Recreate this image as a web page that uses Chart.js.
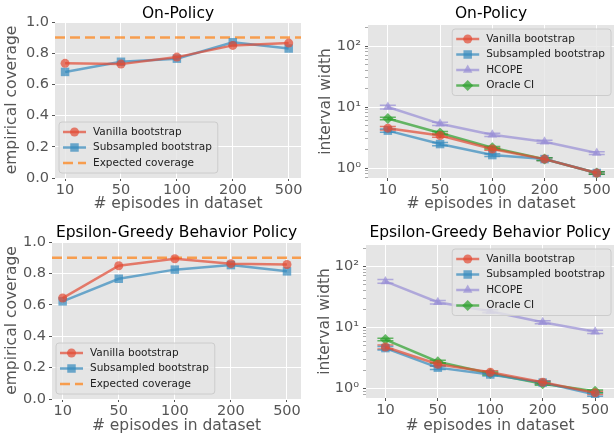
<!DOCTYPE html>
<html>
<head>
<meta charset="utf-8">
<script src="https://cdn.jsdelivr.net/npm/chart.js@4.4.0/dist/chart.umd.min.js"></script>
<style>
body { margin: 0; background: #fff; }
#wrap { position: relative; width: 615px; height: 438px; overflow: hidden; }
canvas { position: absolute; }
</style>
</head>
<body>
<div id="wrap">
<canvas id="c1" width="307" height="218" style="left:0;top:0"></canvas>
<canvas id="c2" width="313" height="218" style="left:307px;top:0"></canvas>
<canvas id="c3" width="307" height="220" style="left:0;top:218px"></canvas>
<canvas id="c4" width="313" height="220" style="left:307px;top:218px"></canvas>
</div>
<script>
// категории по оси X
const episodes = ['10', '50', '100', '200', '500'];
const expectedCoverage = 0.9;

// On-Policy: покрытие
const onVanillaCov = [0.735, 0.73, 0.775, 0.85, 0.865];
const onSubCov = [0.68, 0.745, 0.765, 0.87, 0.83];
// On-Policy: ширина интервала
const onVanillaW = [4.5, 3.4, 2.05, 1.4, 0.83];
const onSubW = [4.1, 2.47, 1.63, 1.4, 0.83];
const onHcopeW = [10, 5.3, 3.5, 2.7, 1.76];
const onOracleW = [6.5, 3.75, 2.15, 1.4, 0.83];
const onVanillaErr = [0.3, 0.2, 0.1, 0.07, 0.04];
const onSubErr = [0.25, 0.15, 0.08, 0.07, 0.04];
const onHcopeErr = [0.7, 0.3, 0.2, 0.15, 0.09];
const onOracleErr = [0.3, 0.2, 0.1, 0.07, 0.04];

// Epsilon-Greedy: покрытие
const epsVanillaCov = [0.643, 0.849, 0.893, 0.862, 0.857];
const epsSubCov = [0.622, 0.766, 0.824, 0.853, 0.813];
// Epsilon-Greedy: ширина интервала
const epsVanillaW = [4.8, 2.5, 1.85, 1.27, 0.85];
const epsSubW = [4.6, 2.2, 1.7, 1.25, 0.8];
const epsHcopeW = [57, 26, 18.5, 12.2, 8.5];
const epsOracleW = [6.35, 2.75, 1.76, 1.2, 0.9];
const epsVanillaErr = [0.35, 0.15, 0.1, 0.07, 0.05];
const epsSubErr = [0.3, 0.15, 0.1, 0.07, 0.05];
const epsHcopeErr = [4, 1.8, 1.1, 0.7, 0.5];
const epsOracleErr = [0.3, 0.15, 0.1, 0.07, 0.05];

// деления логарифмической оси
const logTicks = [0.7, 0.8, 0.9, 1, 2, 3, 4, 5, 6, 7, 8, 9, 10, 20, 30, 40, 50, 60, 70, 80, 90, 100, 200];
const logLabels = { 1: '10\u2070', 10: '10\u00b9', 100: '10\u00b2' };

const FONT = "'DejaVu Sans', sans-serif";
const RED = 'rgba(226,74,51,0.7)';
const BLUE = 'rgba(52,138,189,0.7)';
const PURPLE = 'rgba(152,142,213,0.7)';
const GREEN = 'rgba(44,160,44,0.7)';
const ORANGE = 'rgba(255,127,14,0.7)';

Chart.defaults.font.family = FONT;

// фон, усы ошибок, заголовок и легенда внутри области графика
const extrasPlugin = {
    id: 'extras',
    beforeDraw(chart) {
        const a = chart.chartArea, ctx = chart.ctx;
        ctx.save();
        ctx.fillStyle = '#E5E5E5';
        ctx.fillRect(a.left, a.top, a.right - a.left, a.bottom - a.top);
        ctx.restore();
    },
    beforeDatasetsDraw(chart) {
        const ctx = chart.ctx, xs = chart.scales.x, ys = chart.scales.y;
        chart.data.datasets.forEach(ds => {
            if (!ds.errs) return;
            ctx.save();
            ctx.strokeStyle = ds.borderColor;
            ctx.lineWidth = 1.5;
            ds.data.forEach((p, i) => {
                const px = xs.getPixelForValue(p.x);
                const lo = ys.getPixelForValue(p.y - ds.errs[i]);
                const hi = ys.getPixelForValue(p.y + ds.errs[i]);
                ctx.beginPath();
                ctx.moveTo(px, lo); ctx.lineTo(px, hi);
                ctx.moveTo(px - 8, lo); ctx.lineTo(px + 8, lo);
                ctx.moveTo(px - 8, hi); ctx.lineTo(px + 8, hi);
                ctx.stroke();
            });
            ctx.restore();
        });
    },
    afterDraw(chart, args, opts) {
        const a = chart.chartArea, ctx = chart.ctx;
        ctx.save();
        // заголовок
        ctx.fillStyle = '#000';
        ctx.font = '15.5px ' + FONT;
        ctx.textAlign = 'center';
        ctx.textBaseline = 'middle';
        ctx.fillText(opts.title, (a.left + a.right) / 2, opts.titleY);

        // легенда
        const items = chart.data.datasets;
        ctx.font = '10.5px ' + FONT;
        let tw = 0;
        items.forEach(d => { tw = Math.max(tw, ctx.measureText(d.label).width); });
        const rowH = 15.5, padY = 9;
        const w = 34 + tw + 6, h = padY * 2 + rowH * (items.length - 1) + 2;
        let bx, by;
        if (opts.corner === 'lower left') {
            bx = a.left + 4; by = a.bottom - 5 - h;
        } else {
            bx = a.right - 3 - w; by = a.top + 4;
        }
        ctx.beginPath();
        ctx.roundRect(bx, by, w, h, 3);
        ctx.fillStyle = 'rgba(229,229,229,0.8)';
        ctx.fill();
        ctx.strokeStyle = '#CCCCCC';
        ctx.lineWidth = 1;
        ctx.stroke();
        items.forEach((d, i) => {
            const ry = by + padY + 1 + i * rowH;
            ctx.strokeStyle = d.borderColor;
            ctx.lineWidth = d.borderWidth;
            ctx.setLineDash(d.borderDash || []);
            ctx.beginPath();
            ctx.moveTo(bx + 4, ry); ctx.lineTo(bx + 27, ry);
            ctx.stroke();
            ctx.setLineDash([]);
            if (d.pointRadius > 0) {
                ctx.fillStyle = d.borderColor;
                Chart.helpers.drawPoint(ctx, { pointStyle: d.pointStyle, radius: d.pointRadius, rotation: 0, borderWidth: 0 }, bx + 15.5, ry);
            }
            ctx.fillStyle = '#222';
            ctx.textAlign = 'left';
            ctx.fillText(d.label, bx + 34, ry);
        });
        ctx.restore();
    }
};

// набор данных для линии с маркерами
function lineSet(label, values, color, style, radius, errs) {
    return {
        label: label,
        data: values.map((v, i) => ({ x: i, y: v })),
        borderColor: color,
        backgroundColor: color,
        borderWidth: 2.5,
        pointStyle: style,
        pointRadius: radius,
        pointBorderWidth: 0,
        pointBackgroundColor: color,
        errs: errs
    };
}

// горизонтальная линия ожидаемого покрытия
function expectedSet(xMin, xMax) {
    return {
        label: 'Expected coverage',
        data: [{ x: xMin, y: expectedCoverage }, { x: xMax, y: expectedCoverage }],
        borderColor: ORANGE,
        borderWidth: 2.5,
        borderDash: [10, 5],
        pointRadius: 0
    };
}

function xScale(min, max, height, titlePad) {
    return {
        type: 'linear', min: min, max: max,
        afterBuildTicks: s => { s.ticks = episodes.map((e, i) => ({ value: i })); },
        afterFit: s => { s.height = height; s.paddingLeft = 0; s.paddingRight = 0; },
        ticks: { callback: v => episodes[v], color: '#555', font: { size: 14.5 }, padding: 1, maxRotation: 0, autoSkip: false },
        grid: { color: '#FFFFFF', lineWidth: 1, tickLength: 3, tickColor: '#555' },
        border: { display: false },
        title: { display: true, text: '# episodes in dataset', color: '#555', font: { size: 15.5 }, padding: { top: 0, bottom: titlePad } }
    };
}

function covScale(width) {
    return {
        type: 'linear', min: 0, max: 1,
        afterFit: s => { s.width = width; s.paddingTop = 0; s.paddingBottom = 0; },
        ticks: { stepSize: 0.2, callback: v => v.toFixed(1), color: '#555', font: { size: 14.5 }, padding: 3 },
        grid: { color: '#FFFFFF', lineWidth: 1, tickLength: 3, tickColor: '#555' },
        border: { display: false },
        title: { display: true, text: 'empirical coverage', color: '#555', font: { size: 15.5 }, padding: { top: 3, bottom: 0 } }
    };
}

function widthScale(min, max, width, titlePad) {
    return {
        type: 'logarithmic', min: min, max: max,
        afterFit: s => { s.width = width; s.paddingTop = 0; s.paddingBottom = 0; },
        afterBuildTicks: s => {
            s.ticks = logTicks.filter(v => v >= min && v <= max).map(v => ({ value: v }));
        },
        ticks: { callback: v => logLabels[v] || '', color: '#555', font: { size: 14.5 }, padding: 4, autoSkip: false },
        grid: {
            color: c => (c.tick && logLabels[c.tick.value]) ? '#FFFFFF' : 'rgba(0,0,0,0)',
            tickColor: c => (c.tick && logLabels[c.tick.value]) ? '#555' : '#AAA',
            lineWidth: 1, tickLength: 3
        },
        border: { display: false },
        title: { display: true, text: 'interval width', color: '#555', font: { size: 15.5 }, padding: { top: titlePad, bottom: 0 } }
    };
}

function makeChart(id, datasets, scales, layout, extras) {
    return new Chart(document.getElementById(id), {
        type: 'line',
        data: { datasets: datasets },
        options: {
            responsive: false,
            animation: false,
            layout: { padding: layout },
            scales: scales,
            plugins: { legend: { display: false }, tooltip: { enabled: false }, extras: extras }
        },
        plugins: [extrasPlugin]
    });
}

// On-Policy: покрытие
makeChart('c1', [
    lineSet('Vanilla bootstrap', onVanillaCov, RED, 'circle', 4.5),
    lineSet('Subsampled bootstrap', onSubCov, BLUE, 'rect', 6),
    expectedSet(-0.18, 4.22)
], { x: xScale(-0.18, 4.22, 40, 5), y: covScale(55) },
   { left: 0, top: 22, right: 5, bottom: 0 },
   { title: 'On-Policy', titleY: 14, corner: 'lower left' });

// On-Policy: ширина интервала
makeChart('c2', [
    lineSet('Vanilla bootstrap', onVanillaW, RED, 'circle', 4.5, onVanillaErr),
    lineSet('Subsampled bootstrap', onSubW, BLUE, 'rect', 6, onSubErr),
    lineSet('HCOPE', onHcopeW, PURPLE, 'triangle', 5.5, onHcopeErr),
    lineSet('Oracle CI', onOracleW, GREEN, 'rectRot', 5.5, onOracleErr)
], { x: xScale(-0.38, 4.33, 40, 5), y: widthScale(0.686, 221, 61, 10) },
   { left: 0, top: 25, right: 0, bottom: 0 },
   { title: 'On-Policy', titleY: 14, corner: 'upper right' });

// Epsilon-Greedy: покрытие
makeChart('c3', [
    lineSet('Vanilla bootstrap', epsVanillaCov, RED, 'circle', 4.5),
    lineSet('Subsampled bootstrap', epsSubCov, BLUE, 'rect', 6),
    expectedSet(-0.19, 4.25)
], { x: xScale(-0.19, 4.25, 39, 3), y: covScale(52) },
   { left: 0, top: 24, right: 5, bottom: 0 },
   { title: 'Epsilon-Greedy Behavior Policy', titleY: 15, corner: 'lower left' });

// Epsilon-Greedy: ширина интервала
makeChart('c4', [
    lineSet('Vanilla bootstrap', epsVanillaW, RED, 'circle', 4.5, epsVanillaErr),
    lineSet('Subsampled bootstrap', epsSubW, BLUE, 'rect', 6, epsSubErr),
    lineSet('HCOPE', epsHcopeW, PURPLE, 'triangle', 5.5, epsHcopeErr),
    lineSet('Oracle CI', epsOracleW, GREEN, 'rectRot', 5.5, epsOracleErr)
], { x: xScale(-0.37, 4.36, 40, 3), y: widthScale(0.714, 225, 59, 9) },
   { left: 0, top: 27, right: 0, bottom: 0 },
   { title: 'Epsilon-Greedy Behavior Policy', titleY: 15, corner: 'upper right' });
</script>
</body>
</html>
